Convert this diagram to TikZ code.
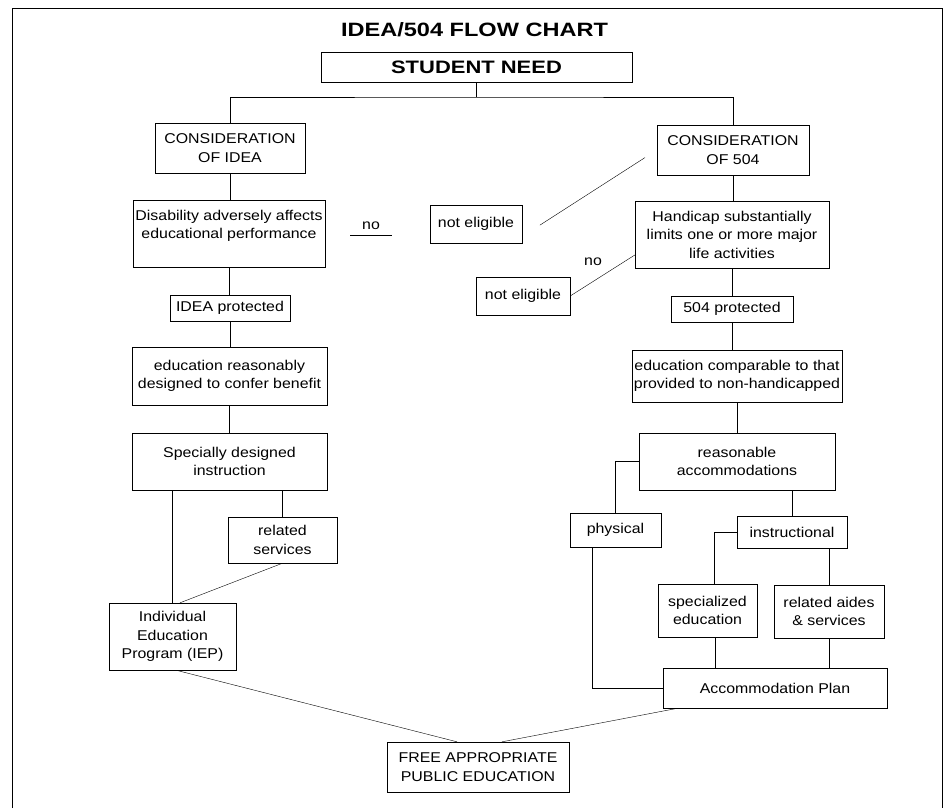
\documentclass[tikz,border=0pt]{standalone}
\usepackage{fontspec}
\setmainfont{Liberation Sans}[FakeStretch=1.12]
\newfontfamily\headfont{Liberation Sans}[FakeStretch=1.22]
\usepackage{tikz}
\def\mybodysize{\fontsize{14.2}{18.5}\selectfont}
\tikzset{
  font=\mybodysize,
  line width=1.1pt,
  my box/.style={
    draw,
    rectangle,
    align=center,
    inner xsep=1pt,
    inner ysep=2pt
  },
  my head/.style={
    font=\fontsize{18}{22}\headfont\bfseries
  },
  my title/.style={
    font=\fontsize{19.3}{23}\headfont\bfseries
  },
  my label/.style={
    inner sep=1pt
  }
}
\begin{document}
\begin{tikzpicture}[x=1pt,y=-1pt]
\useasboundingbox (0,0) rectangle (949,808);
% frame
\draw (12,808) -- (12,8) -- (942,8) -- (942,808);

\node[my title] (title) at (474.5,30) {IDEA/504 FLOW CHART};
\node[my box,my head,minimum width=311pt,minimum height=30pt] (need) at (476.5,67) {STUDENT NEED};
\coordinate (split) at (need.south |- 0,97);

% IDEA side
\node[my box,minimum width=150pt,minimum height=50pt] (considea) at (230,148) {CONSIDERATION\\OF IDEA};
\node[my box,minimum width=192pt,minimum height=67pt] (disab) at (229,233.5) {Disability adversely affects\\educational performance\\\mbox{}};
\node[my label] (noidea) at (371,226) {no};
\node[my box,minimum width=92pt,minimum height=38pt] (noelig1) at (476,224) {not eligible};
\node[my box,minimum width=120pt,minimum height=26pt] (ideaprot) at (230,308) {IDEA protected};
\node[my box,minimum width=195pt,minimum height=58pt] (benefit) at (229.5,376) {education reasonably\\designed to confer benefit};
\node[my box,minimum width=195pt,minimum height=57pt] (sdi) at (229.5,461.5) {Specially designed\\instruction};
\node[my box,minimum width=109pt,minimum height=46pt] (relserv) at (282.5,540) {related\\services};
\node[my box,minimum width=127pt,minimum height=67pt] (iep) at (172.5,636.5) {Individual\\Education\\Program (IEP)};
\node[my box,minimum width=182pt,minimum height=50pt] (fape) at (478,767) {FREE APPROPRIATE\\PUBLIC EDUCATION};

% 504 side
\node[my box,minimum width=152pt,minimum height=50pt] (cons504) at (733,150) {CONSIDERATION\\OF 504};
\node[my box,minimum width=194pt,minimum height=67pt] (handicap) at (732,234.5) {Handicap substantially\\limits one or more major\\life activities};
\node[my label] (no504) at (593,262) {no};
\node[my box,minimum width=94pt,minimum height=38pt] (noelig2) at (523,296) {not eligible};
\node[my box,minimum width=122pt,minimum height=26pt] (prot504) at (732,309) {504 protected};
\node[my box,minimum width=210pt,minimum height=52pt] (comparable) at (737,376) {education comparable to that\\provided to non-handicapped};
\node[my box,minimum width=196pt,minimum height=57pt] (accom) at (737,461.5) {reasonable\\accommodations};
\node[my box,minimum width=91pt,minimum height=34pt] (physical) at (615.5,530) {physical};
\node[my box,minimum width=110pt,minimum height=32pt] (instr) at (792,532) {instructional};
\node[my box,minimum width=99pt,minimum height=53pt] (spedu) at (707.5,610.5) {specialized\\education};
\node[my box,minimum width=110pt,minimum height=53pt] (aides) at (829,611.5) {related aides\\\& services};
\node[my box,minimum width=224pt,minimum height=40pt] (plan) at (775,688) {Accommodation Plan};
\coordinate (spedrop) at ([xshift=8pt]spedu.south);
\coordinate (physdrop) at ([xshift=-23.5pt]physical.south);

% connectors
\draw (need) -- (split);
\draw (considea) |- (split) -| (cons504);
\draw (considea) -- (considea |- disab.north);
\draw (disab) -- (disab |- ideaprot.north);
\draw (ideaprot) -- (ideaprot |- benefit.north);
\draw (benefit) -- (benefit |- sdi.north);
\draw (iep.north) -- (iep.north |- sdi.south);
\draw (relserv.north) -- (relserv.north |- sdi.south);
\draw (relserv.south) -- ([xshift=7.5pt]iep.north);
\draw ([xshift=3.5pt]iep.south) -- ([xshift=-21pt]fape.north);
\draw[shorten <=25pt,shorten >=38pt] (disab.east |- 0,235) -- (noelig1.west |- 0,235);

\draw[shorten <=14pt,shorten >=21pt] (cons504.west) -- ([yshift=-12.5pt]noelig1.east);
\draw ([yshift=-20.5pt]handicap.west) -- (noelig2.east);
\draw (cons504) -- (cons504 |- handicap.north);
\draw (handicap) -- (handicap |- prot504.north);
\draw (prot504) -- (prot504 |- comparable.north);
\draw (comparable) -- (comparable |- accom.north);
\draw (accom.west) -| (physical.north);
\draw (instr.north |- accom.south) -- (instr.north);
\draw (instr.west) -| ([xshift=7pt]spedu.north);
\draw (aides.north |- instr.south) -- (aides.north);
\draw (spedrop) -- (spedrop |- plan.north);
\draw (aides) -- (aides |- plan.north);
\draw (physdrop) |- (plan.west);
\draw ([xshift=24pt]fape.north) -- ([xshift=-97pt]plan.south);
\end{tikzpicture}
\end{document}
